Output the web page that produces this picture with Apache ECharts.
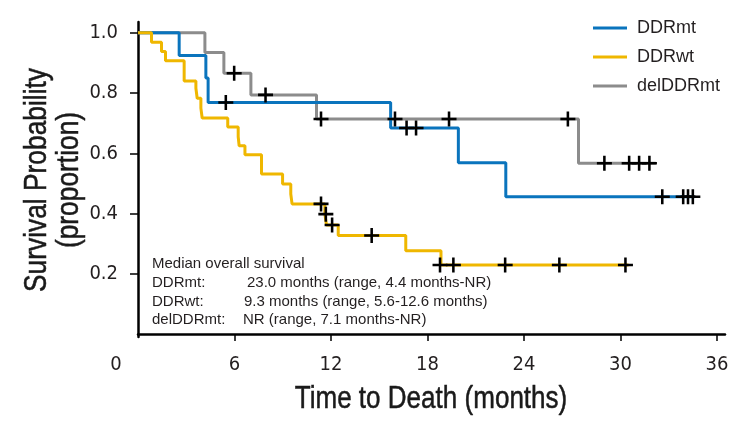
<!DOCTYPE html>
<html>
<head>
<meta charset="utf-8">
<script src="https://cdn.jsdelivr.net/npm/echarts@6/dist/echarts.min.js"></script>
<style>html,body{margin:0;padding:0;background:#fff}#c{width:744px;height:426px}</style>
</head>
<body>
<div id="c"></div>
<script>
// ---- data (months, survival proportion) ----
const seriesNames = ['DDRmt', 'DDRwt', 'delDDRmt'];
const ddrmtCurve = [[0,1],[2.56,0.925],[4.22,0.85],[4.36,0.769],[15.71,0.684],[19.92,0.569],[22.87,0.456],[34.6,0.456]];
const ddrmtCensor = [[5.46,0.769],[16.7,0.684],[17.29,0.684],[32.6,0.456],[33.9,0.456],[34.2,0.456],[34.5,0.456]];
const ddrwtCurve = [[0,1],[0.84,0.969],[1.46,0.938],[1.71,0.907],[2.87,0.84],[3.6,0.816],[3.68,0.783],[3.91,0.75],[3.99,0.717],[5.58,0.687],[6.23,0.655],[6.29,0.625],[6.65,0.595],[7.68,0.531],[8.99,0.498],[9.5,0.465],[9.58,0.432],[11.62,0.398],[11.72,0.362],[12.45,0.327],[16.65,0.276],[18.84,0.229],[30.5,0.229]];
const ddrwtCensor = [[11.38,0.432],[11.68,0.398],[12.07,0.362],[14.53,0.327],[18.78,0.229],[19.61,0.229],[22.83,0.229],[26.2,0.229],[30.31,0.229]];
const delCurve = [[0,1],[4.16,0.935],[5.34,0.866],[7.02,0.794],[11.1,0.714],[27.39,0.567],[32.2,0.567]];
const delCensor = [[5.98,0.866],[7.93,0.794],[11.38,0.714],[15.98,0.714],[19.34,0.714],[26.73,0.714],[29.0,0.567],[30.54,0.567],[31.16,0.567],[31.8,0.567]];
const xTickValues = [6, 12, 18, 24, 30, 36];
const xLabelValues = [0, 6, 12, 18, 24, 30, 36];
const yTickValues = [0.2, 0.4, 0.6, 0.8, 1.0];
const xTitle = 'Time to Death (months)';
const yTitle = ['Survival Probability', '(proportion)'];
const noteLines = [
  ['Median overall survival', ''],
  ['DDRmt:', '23.0 months (range, 4.4 months-NR)'],
  ['DDRwt:', '9.3 months (range, 5.6-12.6 months)'],
  ['delDDRmt:', 'NR (range, 7.1 months-NR)']
];
const noteOffsets = [0, 95, 92, 91];
// ---- styles ----
const colors = ['#0a74bd', '#efb700', '#8c8c8c'];
const cond = "'DejaVu Sans Condensed', 'Liberation Sans', sans-serif";
const plain = "'Liberation Sans', Arial, sans-serif";
const txt = '#231f20';
const plus = 'path://M-0.17,-1H0.17V-0.17H1V0.17H0.17V1H-0.17V0.17H-1V-0.17H-0.17Z';

const chart = echarts.init(document.getElementById('c'));
const curves = [ddrmtCurve, ddrwtCurve, delCurve];
const censors = [ddrmtCensor, ddrwtCensor, delCensor];
const series = [];
[2, 0, 1].forEach(i => {
  series.push({
    name: seriesNames[i], type: 'line', step: 'end', data: curves[i],
    symbol: 'none', lineStyle: {color: colors[i], width: 3}, itemStyle: {color: colors[i]},
    animation: false, z: 2
  });
});
[2, 0, 1].forEach(i => {
  series.push({
    type: 'scatter', data: censors[i], symbol: plus, symbolSize: 15,
    itemStyle: {color: '#000', opacity: 1}, animation: false, z: 5, silent: true
  });
});

const graphics = [];
noteLines.forEach((l, k) => {
  graphics.push({type: 'text', x: 152, y: 264 + k * 18.7,
    style: {text: l[0], font: '15px ' + plain, fill: txt, verticalAlign: 'middle'}});
  if (l[1]) graphics.push({type: 'text', x: 152 + noteOffsets[k], y: 264 + k * 18.7,
    style: {text: l[1], font: '15px ' + plain, fill: txt, verticalAlign: 'middle'}});
});
const titleStyle = {font: '31px ' + plain, fill: '#1a1a1a', stroke: '#1a1a1a', lineWidth: 0.5, align: 'center', verticalAlign: 'middle'};
graphics.push({type: 'text', x: 431, y: 399, scaleX: 0.84,
  style: Object.assign({text: xTitle}, titleStyle)});
graphics.push({type: 'text', x: 37, y: 180, rotation: Math.PI / 2, scaleX: 0.85,
  style: Object.assign({text: yTitle[0]}, titleStyle)});
graphics.push({type: 'text', x: 69, y: 180, rotation: Math.PI / 2, scaleX: 0.85,
  style: Object.assign({text: yTitle[1]}, titleStyle)});

chart.setOption({
  animation: false,
  grid: {left: 138, right: 19, top: 22, bottom: 89},
  legend: {
    data: seriesNames, orient: 'vertical', left: 593, top: 18, padding: 0,
    icon: 'rect', itemWidth: 34, itemHeight: 3, itemGap: 9,
    textStyle: {fontFamily: plain, fontSize: 18, color: txt, lineHeight: 20, padding: [0, 0, 0, 5]}
  },
  xAxis: {
    type: 'value', min: 0, max: 36.5,
    axisLine: {show: true, lineStyle: {color: '#000', width: 2.5}},
    axisTick: {show: true, length: 7, lineStyle: {color: '#000', width: 1.5}, customValues: xTickValues},
    axisLabel: {
      customValues: xLabelValues, margin: 18, fontFamily: cond, fontSize: 20, color: txt,
      formatter: v => v === 0 ? '{z|0}' : String(v),
      rich: {z: {fontFamily: cond, fontSize: 20, color: txt, padding: [0, 44, 0, 0]}}
    },
    splitLine: {show: false}
  },
  yAxis: {
    type: 'value', min: -0.01, max: 1.036,
    axisLine: {show: true, lineStyle: {color: '#000', width: 2.5}},
    axisTick: {show: true, length: 8, lineStyle: {color: '#000', width: 1.5}, customValues: yTickValues},
    axisLabel: {customValues: yTickValues, margin: 20, fontFamily: cond, fontSize: 20, color: txt,
      formatter: v => v.toFixed(1)},
    splitLine: {show: false}
  },
  graphic: graphics,
  series: series
});
</script>
</body>
</html>
